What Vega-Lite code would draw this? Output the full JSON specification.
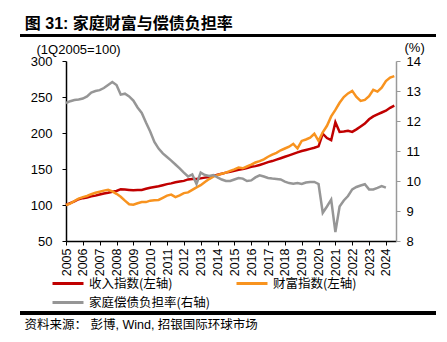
{
  "$schema": "https://vega.github.io/schema/vega-lite/v6.json",
  "width": 330,
  "height": 180,
  "padding": {"left": 18, "top": 15, "right": 5, "bottom": 5},
  "title": {
    "text": "图 31: 家庭财富与偿债负担率",
    "anchor": "start",
    "frame": "bounds",
    "dx": 6,
    "offset": 3,
    "fontSize": 16,
    "fontWeight": "bold",
    "font": "Liberation Sans, Noto Sans CJK SC",
    "color": "#000000"
  },
  "config": {
    "view": {"stroke": null},
    "font": "Liberation Sans, Noto Sans CJK SC",
    "axis": {"grid": false, "labelColor": "#000000", "titleColor": "#000000", "labelFont": "Liberation Sans", "labelFontSize": 13, "labelOverlap": false, "labelFlush": false}
  },
  "data": {
    "values": [
      {"t": 2005.0, "income": 100, "wealth": 100, "dsr": 12.6},
      {"t": 2005.25, "income": 102.5, "wealth": 102, "dsr": 12.66},
      {"t": 2005.5, "income": 105, "wealth": 105.5, "dsr": 12.7},
      {"t": 2005.75, "income": 108, "wealth": 109, "dsr": 12.72},
      {"t": 2006.0, "income": 109.5, "wealth": 111, "dsr": 12.75},
      {"t": 2006.25, "income": 110.5, "wealth": 112.5, "dsr": 12.82},
      {"t": 2006.5, "income": 112, "wealth": 115, "dsr": 12.95},
      {"t": 2006.75, "income": 113, "wealth": 117, "dsr": 13.0},
      {"t": 2007.0, "income": 114.5, "wealth": 118.5, "dsr": 13.03},
      {"t": 2007.25, "income": 116, "wealth": 120, "dsr": 13.1},
      {"t": 2007.5, "income": 117, "wealth": 121, "dsr": 13.2},
      {"t": 2007.75, "income": 118.5, "wealth": 119, "dsr": 13.3},
      {"t": 2008.0, "income": 119.5, "wealth": 115.5, "dsr": 13.2},
      {"t": 2008.25, "income": 122, "wealth": 111.5, "dsr": 12.88},
      {"t": 2008.5, "income": 121.5, "wealth": 106, "dsr": 12.91},
      {"t": 2008.75, "income": 121, "wealth": 101, "dsr": 12.82},
      {"t": 2009.0, "income": 120.5, "wealth": 100.5, "dsr": 12.68},
      {"t": 2009.25, "income": 121, "wealth": 102.5, "dsr": 12.45},
      {"t": 2009.5, "income": 121, "wealth": 104, "dsr": 12.27},
      {"t": 2009.75, "income": 122.5, "wealth": 104, "dsr": 11.95},
      {"t": 2010.0, "income": 124, "wealth": 106, "dsr": 11.65},
      {"t": 2010.25, "income": 125, "wealth": 106.5, "dsr": 11.3},
      {"t": 2010.5, "income": 126, "wealth": 107, "dsr": 11.08},
      {"t": 2010.75, "income": 127.5, "wealth": 110, "dsr": 10.92},
      {"t": 2011.0, "income": 129, "wealth": 113, "dsr": 10.8},
      {"t": 2011.25, "income": 130, "wealth": 114.5, "dsr": 10.68},
      {"t": 2011.5, "income": 131.5, "wealth": 111, "dsr": 10.55},
      {"t": 2011.75, "income": 132.5, "wealth": 113.5, "dsr": 10.42},
      {"t": 2012.0, "income": 133.5, "wealth": 116.5, "dsr": 10.28},
      {"t": 2012.25, "income": 135.5, "wealth": 117.5, "dsr": 10.15},
      {"t": 2012.5, "income": 136, "wealth": 121, "dsr": 10.22},
      {"t": 2012.75, "income": 136, "wealth": 124.5, "dsr": 9.9},
      {"t": 2013.0, "income": 137, "wealth": 127.5, "dsr": 10.28},
      {"t": 2013.25, "income": 138, "wealth": 132, "dsr": 10.2},
      {"t": 2013.5, "income": 139, "wealth": 136, "dsr": 10.17},
      {"t": 2013.75, "income": 140.5, "wealth": 139.5, "dsr": 10.2},
      {"t": 2014.0, "income": 142, "wealth": 141.5, "dsr": 10.12},
      {"t": 2014.25, "income": 143.5, "wealth": 143.5, "dsr": 10.05},
      {"t": 2014.5, "income": 145, "wealth": 145, "dsr": 10.0},
      {"t": 2014.75, "income": 146, "wealth": 147.5, "dsr": 10.0},
      {"t": 2015.0, "income": 147.5, "wealth": 149.5, "dsr": 10.05},
      {"t": 2015.25, "income": 149, "wealth": 152, "dsr": 10.1},
      {"t": 2015.5, "income": 150, "wealth": 151, "dsr": 10.08},
      {"t": 2015.75, "income": 151.5, "wealth": 153.5, "dsr": 10.0},
      {"t": 2016.0, "income": 153, "wealth": 156, "dsr": 10.02},
      {"t": 2016.25, "income": 154, "wealth": 159, "dsr": 10.12},
      {"t": 2016.5, "income": 155.5, "wealth": 161, "dsr": 10.19},
      {"t": 2016.75, "income": 157.5, "wealth": 163.5, "dsr": 10.15},
      {"t": 2017.0, "income": 159.5, "wealth": 167, "dsr": 10.1},
      {"t": 2017.25, "income": 161, "wealth": 170, "dsr": 10.08},
      {"t": 2017.5, "income": 163, "wealth": 172.5, "dsr": 10.07},
      {"t": 2017.75, "income": 165, "wealth": 176, "dsr": 10.05},
      {"t": 2018.0, "income": 167, "wealth": 178.5, "dsr": 9.98},
      {"t": 2018.25, "income": 169, "wealth": 181, "dsr": 9.93},
      {"t": 2018.5, "income": 171, "wealth": 185, "dsr": 9.91},
      {"t": 2018.75, "income": 173, "wealth": 178.5, "dsr": 9.93},
      {"t": 2019.0, "income": 175, "wealth": 189, "dsr": 9.9},
      {"t": 2019.25, "income": 176.5, "wealth": 191, "dsr": 9.95},
      {"t": 2019.5, "income": 178, "wealth": 193.5, "dsr": 9.97},
      {"t": 2019.75, "income": 179.5, "wealth": 199, "dsr": 9.97},
      {"t": 2020.0, "income": 181.5, "wealth": 189, "dsr": 9.9},
      {"t": 2020.25, "income": 199, "wealth": 201, "dsr": 8.94},
      {"t": 2020.5, "income": 193, "wealth": 210, "dsr": 9.15},
      {"t": 2020.75, "income": 190, "wealth": 223, "dsr": 9.38},
      {"t": 2021.0, "income": 215, "wealth": 232, "dsr": 8.3},
      {"t": 2021.25, "income": 201.5, "wealth": 242, "dsr": 9.15},
      {"t": 2021.5, "income": 202, "wealth": 250, "dsr": 9.35},
      {"t": 2021.75, "income": 203, "wealth": 255, "dsr": 9.5},
      {"t": 2022.0, "income": 201.5, "wealth": 258.5, "dsr": 9.72},
      {"t": 2022.25, "income": 205, "wealth": 250, "dsr": 9.8},
      {"t": 2022.5, "income": 209, "wealth": 244.5, "dsr": 9.85},
      {"t": 2022.75, "income": 213, "wealth": 246, "dsr": 9.89},
      {"t": 2023.0, "income": 219, "wealth": 251, "dsr": 9.72},
      {"t": 2023.25, "income": 223, "wealth": 260, "dsr": 9.72},
      {"t": 2023.5, "income": 226, "wealth": 257.5, "dsr": 9.77},
      {"t": 2023.75, "income": 228.5, "wealth": 263, "dsr": 9.83},
      {"t": 2024.0, "income": 231, "wealth": 272, "dsr": 9.78},
      {"t": 2024.25, "income": 235, "wealth": 277, "dsr": null},
      {"t": 2024.5, "income": 238, "wealth": 279, "dsr": null}
    ]
  },
  "layer": [
    {
      "transform": [{"fold": ["income", "wealth"], "as": ["key", "val"]}],
      "mark": {"type": "line", "strokeWidth": 2.5},
      "encoding": {
        "x": {
          "field": "t", "type": "quantitative",
          "scale": {"domain": [2005, 2024.6], "nice": false, "zero": false},
          "axis": {
            "values": [2005, 2006, 2007, 2008, 2009, 2010, 2011, 2012, 2013, 2014, 2015, 2016, 2017, 2018, 2019, 2020, 2021, 2022, 2023, 2024],
            "format": "d", "labelAngle": 270, "labelAlign": "right", "labelBaseline": "middle",
            "labelPadding": 3, "tickSize": 4, "tickColor": "#000000", "domainColor": "#000000", "domainWidth": 1.5,
            "labelFontSize": 12.5, "labelOverlap": false,
            "title": "资料来源：  彭博, Wind, 招银国际环球市场",
            "titleFont": "Liberation Sans, Noto Sans CJK SC", "titleFontSize": 12.5, "titleFontWeight": "normal",
            "titleAlign": "left", "titleAnchor": "start", "titleBaseline": "middle", "titleX": -42, "titleY": 83
          }
        },
        "y": {
          "field": "val", "type": "quantitative",
          "scale": {"domain": [50, 300], "nice": false, "zero": false},
          "axis": {
            "values": [50, 100, 150, 200, 250, 300], "tickSize": 4, "labelPadding": 10, "labelOverlap": false,
            "tickColor": "#000000", "domainColor": "#000000", "domainWidth": 1.5,
            "title": "(1Q2005=100)", "titleAngle": 0, "titleAlign": "left", "titleBaseline": "middle",
            "titleX": -30, "titleY": -12, "titleFontSize": 13, "titleFontWeight": "normal", "titleFont": "Liberation Sans"
          }
        },
        "color": {
          "field": "key", "type": "nominal",
          "scale": {"domain": ["income", "wealth", "dsr"], "range": ["#C00000", "#F8931F", "#969696"]},
          "legend": {
            "title": null, "orient": "none", "legendX": -15, "legendY": 216, "columns": 2, "direction": "horizontal",
            "symbolType": "M-1,0H5.2", "symbolSize": 100, "symbolStrokeWidth": 3,
            "labelFontSize": 12.5, "labelFont": "Noto Sans CJK SC", "labelColor": "#000000", "labelOffset": 25,
            "rowPadding": 6, "columnPadding": 20, "padding": 0,
            "labelExpr": "datum.value == 'income' ? '收入指数(左轴)' : datum.value == 'wealth' ? '财富指数(左轴)' : '家庭偿债负担率(右轴)'"
          }
        }
      }
    },
    {
      "mark": {"type": "line", "strokeWidth": 2.5},
      "encoding": {
        "x": {"field": "t", "type": "quantitative", "scale": {"domain": [2005, 2024.6], "nice": false, "zero": false}, "axis": null},
        "y": {
          "field": "dsr", "type": "quantitative",
          "scale": {"domain": [8, 14], "nice": false, "zero": false},
          "axis": {
            "orient": "right", "values": [8, 9, 10, 11, 12, 13, 14], "tickSize": 4, "labelPadding": 6, "labelOverlap": false,
            "tickColor": "#999999", "domainColor": "#999999", "domainWidth": 1.5,
            "title": "(%)", "titleAngle": 0, "titleAlign": "left", "titleBaseline": "middle",
            "titleX": 8, "titleY": -14, "titleFontSize": 13, "titleFontWeight": "normal", "titleFont": "Liberation Sans"
          }
        },
        "color": {"datum": "dsr", "type": "nominal"}
      }
    },
    {
      "layer": [
        {
          "mark": {"type": "rule", "color": "#000000", "strokeWidth": 2, "clip": false},
          "encoding": {
            "x": {"datum": 2002.27, "type": "quantitative", "scale": {"domain": [2005, 2024.6], "nice": false, "zero": false}, "axis": null},
            "x2": {"datum": 2026.97},
            "y": {"datum": 335.4, "type": "quantitative", "scale": {"domain": [50, 300], "nice": false, "zero": false}, "axis": null}
          }
        },
        {
          "mark": {"type": "rule", "color": "#000000", "strokeWidth": 2.5, "clip": false},
          "encoding": {
            "x": {"datum": 2002.27, "type": "quantitative", "axis": null},
            "x2": {"datum": 2026.97},
            "y": {"datum": -50, "type": "quantitative", "axis": null}
          }
        }
      ]
    }
  ],
  "resolve": {"scale": {"x": "independent", "y": "independent"}}
}
